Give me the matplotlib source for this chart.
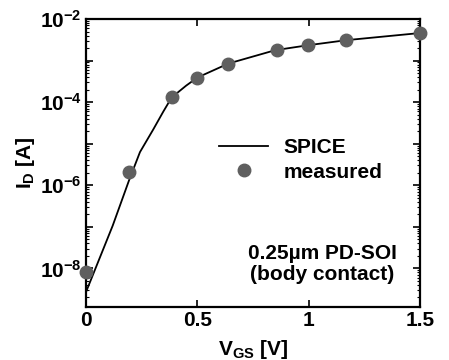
import numpy as np
import matplotlib
matplotlib.use("Agg")
import matplotlib.pyplot as plt
from matplotlib.ticker import FixedLocator, FuncFormatter, LogLocator, NullFormatter

# ── data ───────────────────────────────────────────────────────────────────
# SPICE simulation (line)
vgs_spice = [0.0, 0.06, 0.12, 0.193, 0.2425, 0.302, 0.347, 0.385, 0.45, 0.50, 0.64, 0.85,
             1.00, 1.17, 1.50]
id_spice = [2.7e-9, 1.7e-8, 1.07e-7, 1.3e-6, 6.3e-6, 2.2e-5, 5.9e-5, 1.3e-4, 2.5e-4, 3.9e-4,
            8.5e-4, 1.78e-3, 2.35e-3, 3.1e-3, 4.6e-3]

# measured (dots)
vgs_meas = [0.0, 0.194, 0.385, 0.50, 0.639, 0.856, 0.998, 1.167, 1.50]
id_meas = [8.1e-9, 2.09e-6, 1.35e-4, 3.9e-4, 8.5e-4, 1.79e-3, 2.36e-3, 3.12e-3, 4.5e-3]

x_ticks = [0, 0.5, 1, 1.5]
x_ticklabels = ["0", "0.5", "1", "1.5"]
y_decades = [1e-9, 1e-8, 1e-7, 1e-6, 1e-5, 1e-4, 1e-3, 1e-2]

plt.rcParams.update({
    'font.family': 'Liberation Sans',
    'font.weight': 'bold',
    'mathtext.fontset': 'custom',
    'mathtext.rm': 'Liberation Sans:bold',
    'mathtext.bf': 'Liberation Sans:bold',
    'mathtext.it': 'Liberation Sans:bold',
    'axes.linewidth': 1.6,
})

dot = '#5f5f5f'
FS = 15

fig = plt.figure(figsize=(4.49, 3.60), dpi=100)
ax = fig.add_axes([0.1915, 0.148, 0.7439, 0.7992])

ax.plot(vgs_spice, id_spice, '-', color='k', lw=1.3, label='SPICE')
ax.plot(vgs_meas, id_meas, 'o', color=dot, ms=9, mec=dot, label='measured',
        clip_on=False, zorder=5)

ax.set_yscale('log')
ax.set_xlim(0, 1.5)
ax.set_ylim(1.2e-9, 1e-2)

ax.xaxis.set_major_locator(FixedLocator(x_ticks))
ax.set_xticklabels(x_ticklabels)

ax.yaxis.set_major_locator(FixedLocator(y_decades))


def decade_label(v, pos):
    e = int(round(np.log10(v)))
    if e % 2:
        return ''
    return r'$\mathbf{10^{%d}}$' % e


ax.yaxis.set_major_formatter(FuncFormatter(decade_label))
ax.yaxis.set_minor_locator(LogLocator(base=10, subs=np.arange(2, 10), numticks=20))
ax.yaxis.set_minor_formatter(NullFormatter())

ax.tick_params(which='major', direction='in', length=5, width=1.2,
               top=True, right=True, labelsize=FS, pad=3)
ax.tick_params(which='minor', direction='in', length=2, width=0.8,
               top=True, right=True)
for lab in ax.get_xticklabels():
    lab.set_fontweight('bold')

ax.set_xlabel(r'V$_{\mathbf{GS}}$ [V]', fontsize=FS, fontweight='bold', labelpad=6)
ax.set_ylabel(r'I$_{\mathbf{D}}$ [A]', fontsize=FS, fontweight='bold', labelpad=2)

leg = ax.legend(loc='upper left', bbox_to_anchor=(0.398, 0.585), frameon=False,
                prop={'weight': 'bold', 'size': FS}, handlelength=2.36,
                handletextpad=0.75, labelspacing=0.25, borderaxespad=0,
                borderpad=0)

ax.text(0.707, 0.148, '0.25\u00b5m PD-SOI\n(body contact)', transform=ax.transAxes,
        ha='center', va='center', fontsize=FS, fontweight='bold', linespacing=1.1)

fig.savefig('out.png', dpi=100)
